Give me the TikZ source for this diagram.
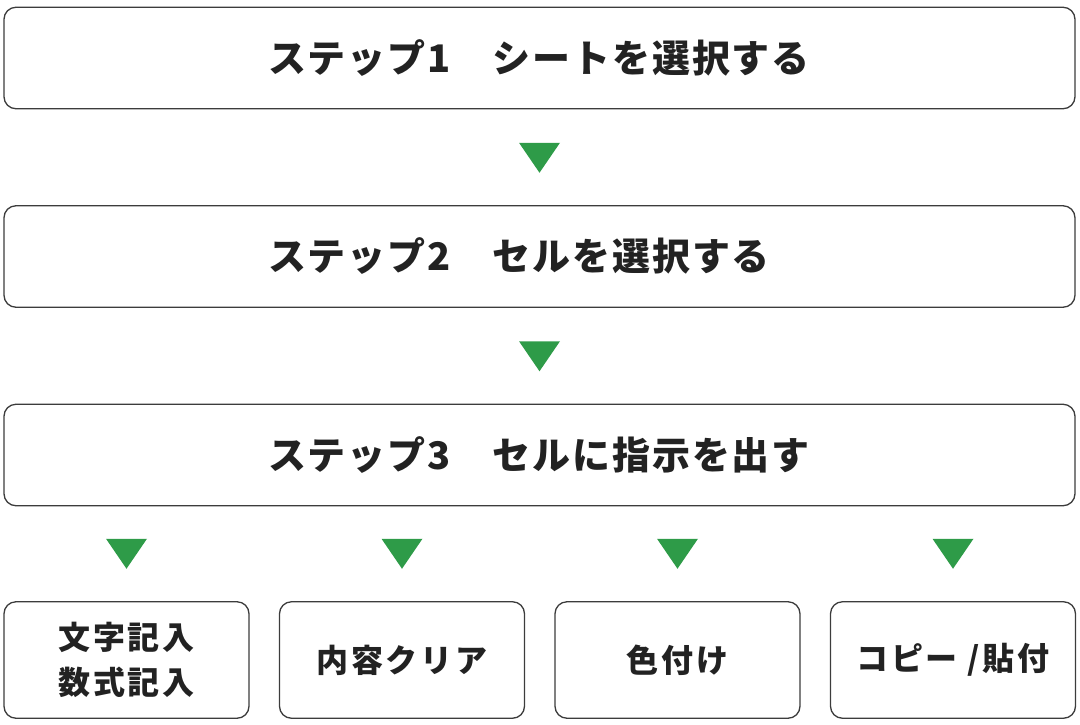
\documentclass[tikz,border=0pt]{standalone}
\usepackage{xcolor}
\usepackage{fontspec}
\usepackage{tikz}
\usetikzlibrary{positioning}
\newfontfamily\jpfont{Noto Sans CJK JP}
\definecolor{boxgray}{RGB}{60, 60, 60}
\definecolor{textblack}{RGB}{34, 34, 34}
\definecolor{arrowgreen}{RGB}{46, 155, 72}
\newcommand{\steptext}{\jpfont\bfseries\addfontfeatures{LetterSpace=5}\fontsize{38}{44}\selectfont}
\newcommand{\tasktext}{\jpfont\bfseries\addfontfeatures{LetterSpace=8}\fontsize{32}{45}\selectfont}

\begin{document}
\begin{tikzpicture}[
    x=1pt, y=1pt,
    stepbox/.style={rectangle, draw=boxgray, line width=1.3pt, rounded corners=12pt,
                text width=543pt, inner xsep=264pt, minimum height=101.5pt, outer sep=0pt,
                align=left, font=\steptext, text=textblack},
    taskbox/.style={rectangle, draw=boxgray, line width=1.3pt, rounded corners=12pt,
                minimum width=245pt, minimum height=116.5pt, inner sep=0pt, outer sep=0pt,
                align=center, font=\tasktext, text=textblack},
    marker/.style={fill=arrowgreen}
]
    \useasboundingbox (0,0) rectangle (1080,-724);

    % Steps
    \node[stepbox] (step1) at (539.5,-58) {ステップ1　シートを選択する};
    \node[stepbox, below=97pt of step1] (step2) {ステップ2　セルを選択する};
    \node[stepbox, below=97pt of step2] (step3) {ステップ3　セルに指示を出す};

    % Tasks
    \node[taskbox, anchor=north west] (task1) at ([yshift=-96pt]step3.south west) {文字記入\\数式記入};
    \node[taskbox, right=30.5pt of task1] (task2) {内容クリア};
    \node[taskbox, right=30.5pt of task2] (task3) {色付け};
    \node[taskbox, right=30.5pt of task3] (task4) {コピー /貼付};

    % Markers
    \foreach \a/\b in {step1/step2, step2/step3, step3/task1, step3/task2, step3/task3, step3/task4}
        \fill[marker] ([yshift=33pt]\b.north) -- ++(-20.5,30) -- ++(41,0) -- cycle;

\end{tikzpicture}
\end{document}
